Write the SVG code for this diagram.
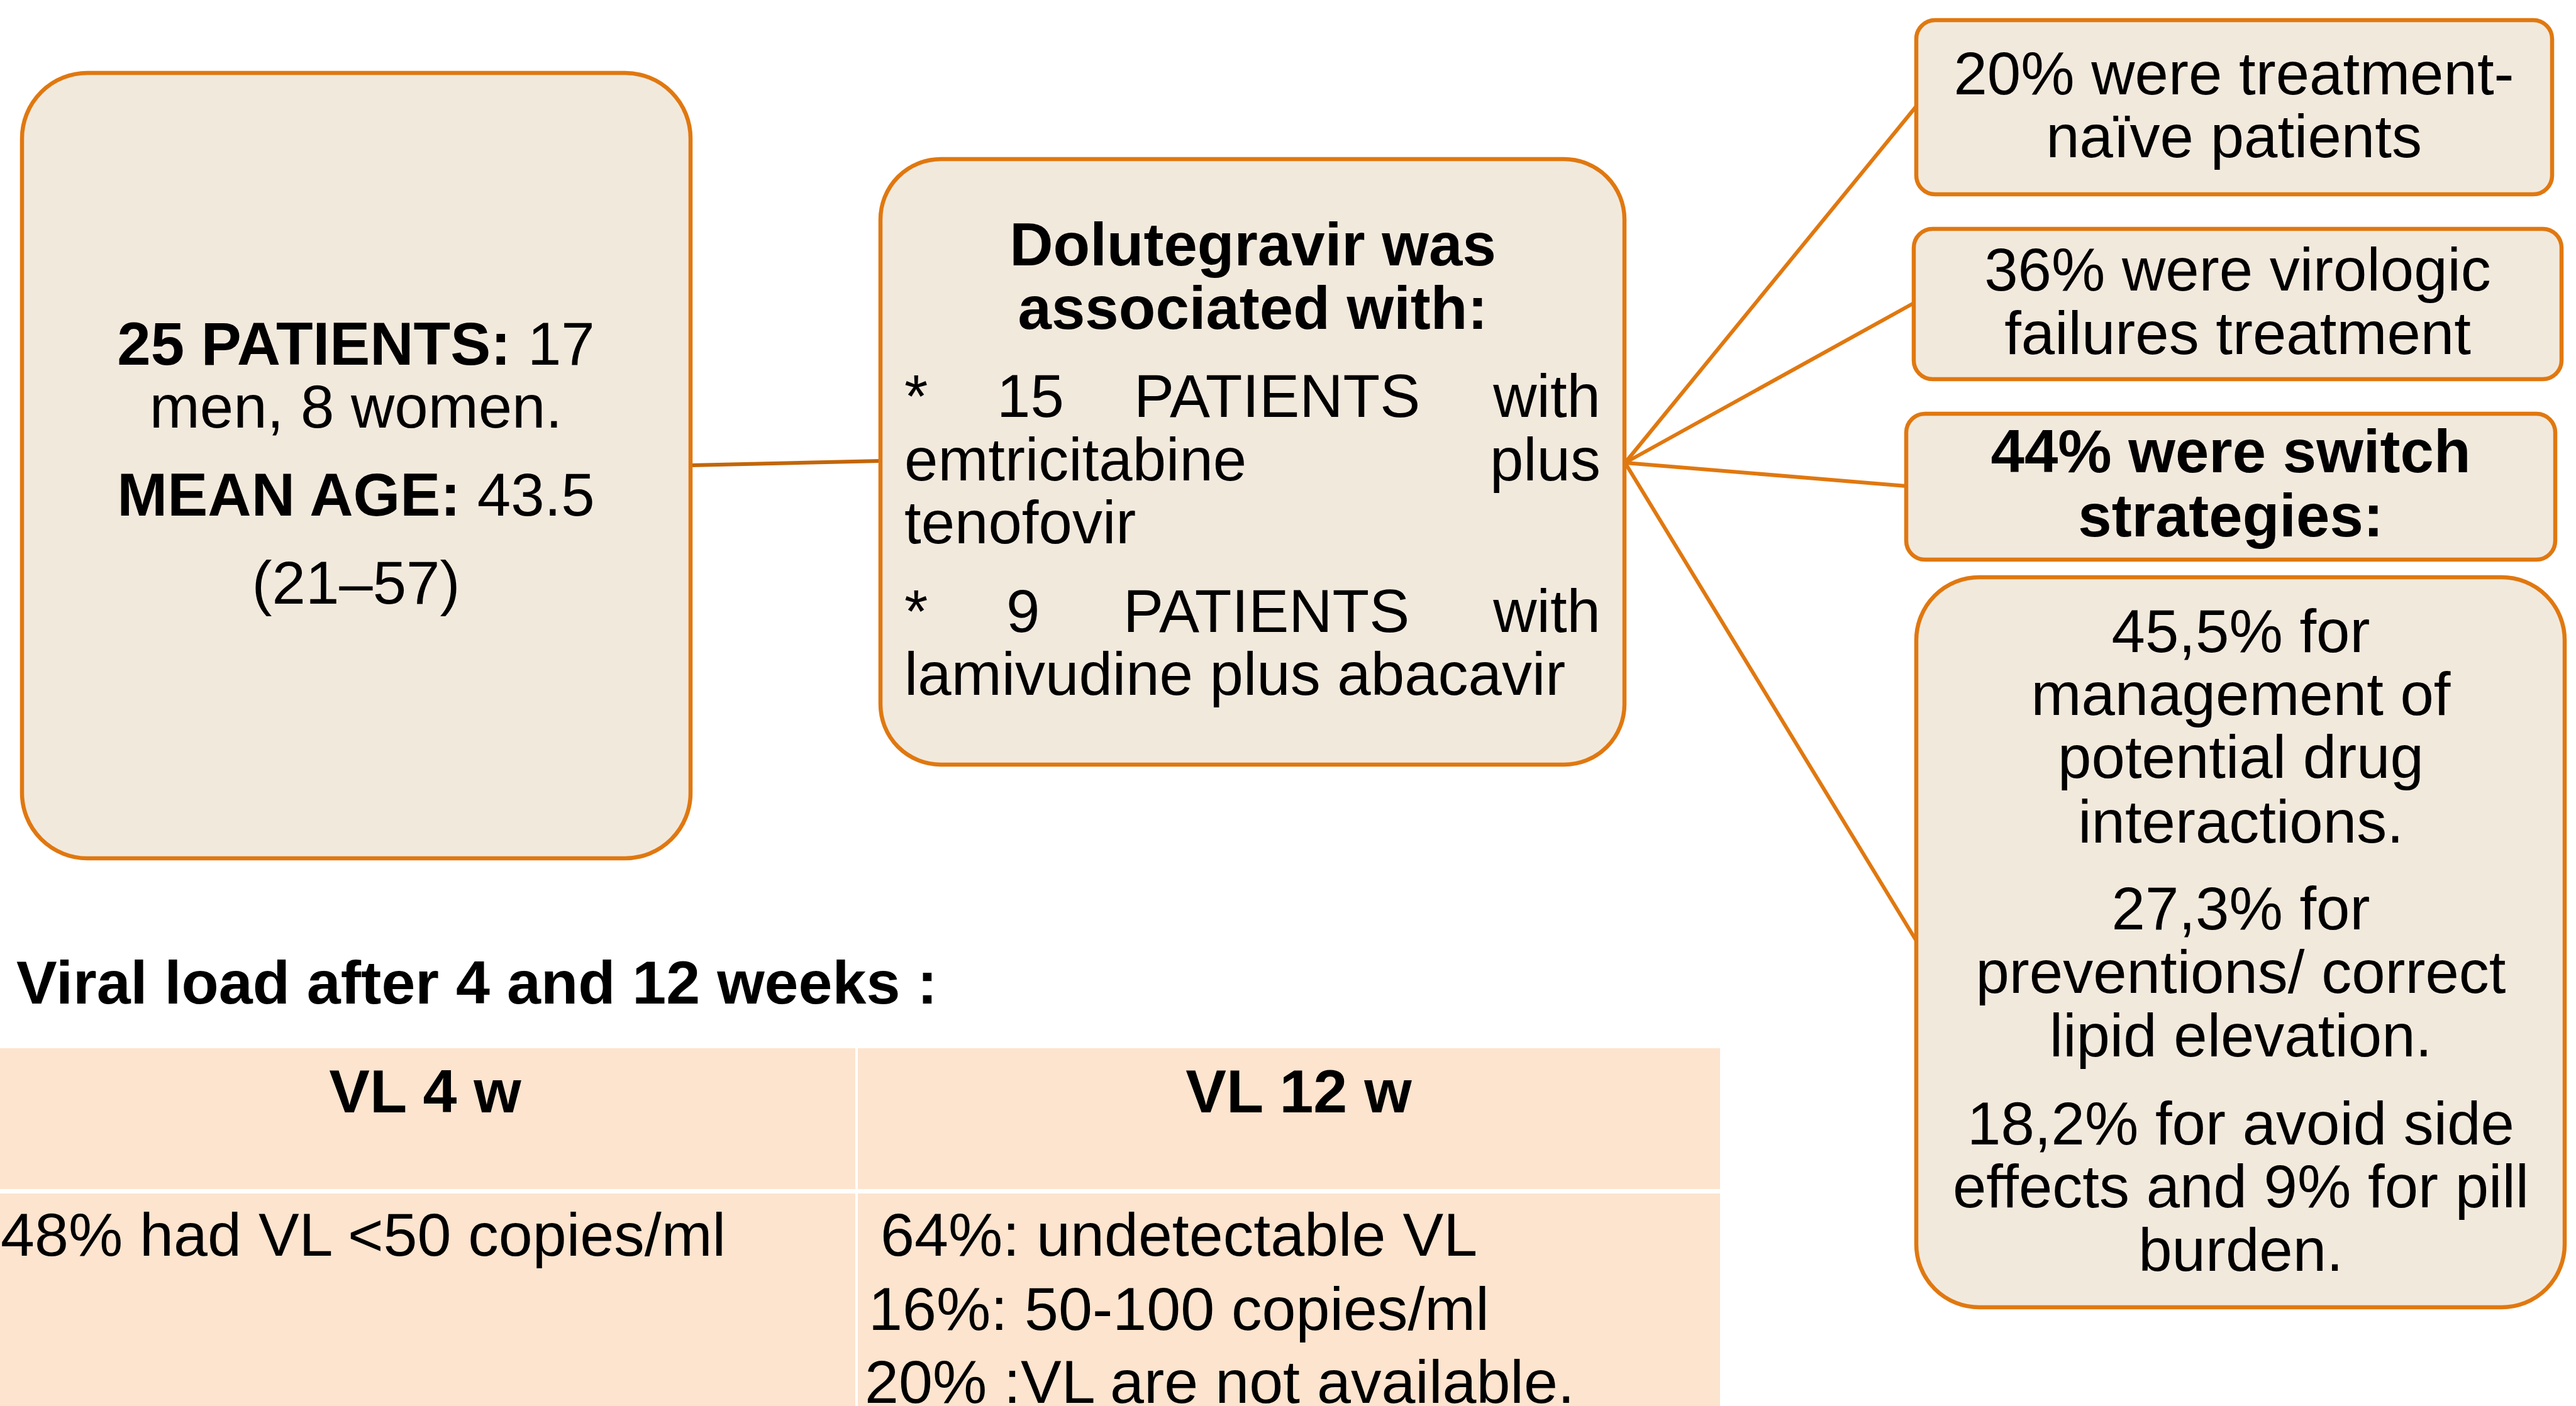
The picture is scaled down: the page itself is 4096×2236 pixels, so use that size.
<svg xmlns="http://www.w3.org/2000/svg" width="4096" height="2236" viewBox="0 0 4096 2236">
<style>
.box{fill:#F2E9DD;stroke:#E07810;stroke-width:6.5}
.t{font-family:"Liberation Sans",Arial,sans-serif;font-size:96px;fill:#000}
.b{font-weight:bold}
.c{text-anchor:middle}
.e{text-anchor:end}
.conn{stroke:#E07810;stroke-width:6;fill:none}
.cell{fill:#FCE4CF}
</style>
<rect width="4096" height="2236" fill="#ffffff"/>
<g id="connectors">
<line class="conn" x1="1098" y1="740" x2="1400" y2="733" style="stroke:#C2660A"/>
<line class="conn" x1="2584" y1="736" x2="3047" y2="169"/>
<line class="conn" x1="2584" y1="736" x2="3043" y2="482"/>
<line class="conn" x1="2584" y1="736" x2="3031" y2="773"/>
<line class="conn" x1="2584" y1="736" x2="3047" y2="1496"/>
</g>
<g id="node-patients">
<rect class="box" x="35" y="116" width="1063" height="1249" rx="104"/>
<text class="t c" x="566" y="580"><tspan class="b">25 PATIENTS:</tspan> 17</text>
<text class="t c" x="566" y="680">men, 8 women.</text>
<text class="t c" x="566" y="820"><tspan class="b">MEAN AGE:</tspan> 43.5</text>
<text class="t c" x="566" y="960">(21–57)</text>
</g>
<g id="node-dolutegravir">
<rect class="box" x="1400" y="253" width="1183" height="963" rx="96"/>
<text class="t b c" x="1992" y="422">Dolutegravir was</text>
<text class="t b c" x="1992" y="523">associated with:</text>
<text class="t" y="663"><tspan x="1438">*</tspan><tspan x="1585">15</tspan><tspan x="1803">PATIENTS</tspan></text>
<text class="t e" x="2545" y="663">with</text>
<text class="t" x="1438" y="764">emtricitabine</text>
<text class="t e" x="2545" y="764">plus</text>
<text class="t" x="1438" y="864">tenofovir</text>
<text class="t" y="1005"><tspan x="1438">*</tspan><tspan x="1600">9</tspan><tspan x="1786">PATIENTS</tspan></text>
<text class="t e" x="2545" y="1005">with</text>
<text class="t" x="1438" y="1105">lamivudine plus abacavir</text>
</g>
<g id="node-naive">
<rect class="box" x="3047" y="32" width="1011" height="277" rx="30"/>
<text class="t c" x="3552" y="150">20% were treatment-</text>
<text class="t c" x="3552" y="250">naïve patients</text>
</g>
<g id="node-virologic">
<rect class="box" x="3043" y="364" width="1030" height="239" rx="30"/>
<text class="t c" x="3558" y="462">36% were virologic</text>
<text class="t c" x="3558" y="563">failures treatment</text>
</g>
<g id="node-switch">
<rect class="box" x="3031" y="658" width="1032" height="232" rx="30"/>
<text class="t b c" x="3547" y="751">44% were switch</text>
<text class="t b c" x="3547" y="853">strategies:</text>
</g>
<g id="node-reasons">
<rect class="box" x="3047" y="918" width="1031" height="1161" rx="100"/>
<text class="t c" x="3563" y="1037">45,5% for</text>
<text class="t c" x="3563" y="1137">management of</text>
<text class="t c" x="3563" y="1237">potential drug</text>
<text class="t c" x="3563" y="1340">interactions.</text>
<text class="t c" x="3563" y="1478">27,3% for</text>
<text class="t c" x="3563" y="1579">preventions/ correct</text>
<text class="t c" x="3563" y="1680">lipid elevation.</text>
<text class="t c" x="3563" y="1820">18,2% for avoid side</text>
<text class="t c" x="3563" y="1920">effects and 9% for pill</text>
<text class="t c" x="3563" y="2021">burden.</text>
</g>
<g id="viral-load-table">
<text class="t b" x="26" y="1596" style="font-size:97px">Viral load after 4 and 12 weeks :</text>
<rect class="cell" x="0" y="1667" width="1360" height="224"/>
<rect class="cell" x="1364" y="1667" width="1371" height="224"/>
<rect class="cell" x="0" y="1898" width="1360" height="338"/>
<rect class="cell" x="1364" y="1898" width="1371" height="338"/>
<text class="t b c" x="676" y="1769" style="font-size:97px">VL 4 w</text>
<text class="t b c" x="2065" y="1769" style="font-size:97px">VL 12 w</text>
<text class="t" x="1" y="1997" style="font-size:97px">48% had VL &lt;50 copies/ml</text>
<text class="t" x="1400" y="1997" style="font-size:97px">64%: undetectable VL</text>
<text class="t" x="1381" y="2115" style="font-size:97px">16%: 50-100 copies/ml</text>
<text class="t" x="1375" y="2231" style="font-size:97px">20% :VL are not available.</text>
</g>
</svg>
